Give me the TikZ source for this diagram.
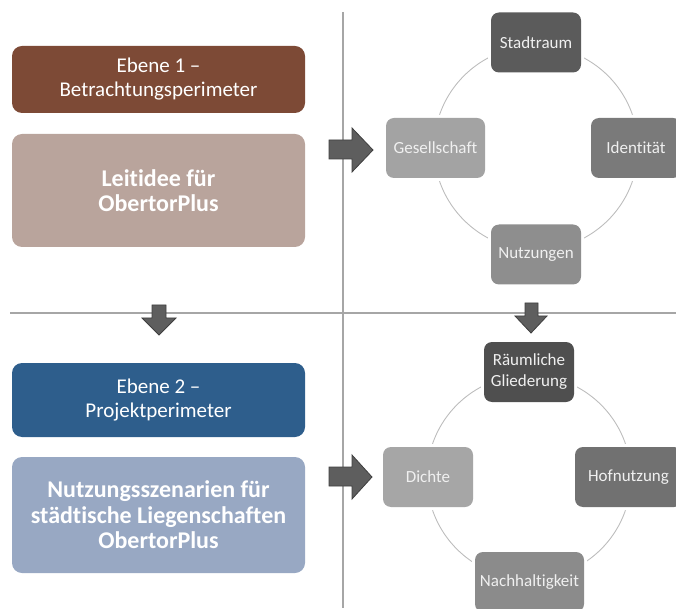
\documentclass[tikz,border=0pt]{standalone}
\usepackage{fontspec}
\setmainfont{Carlito}[Ligatures=NoCommon]
\definecolor{ebeneone}{HTML}{7D4A36}
\definecolor{leitcol}{HTML}{B9A49C}
\definecolor{ebenetwo}{HTML}{2E5E8C}
\definecolor{nutzcol}{HTML}{98A8C3}
\definecolor{gA}{HTML}{5B5B5B}
\definecolor{gB}{HTML}{7A7A7A}
\definecolor{gC}{HTML}{8E8E8E}
\definecolor{gD}{HTML}{A3A3A3}
\definecolor{hA}{HTML}{4F4F4F}
\definecolor{hB}{HTML}{717171}
\definecolor{hC}{HTML}{8B8B8B}
\definecolor{hD}{HTML}{A6A6A6}
\definecolor{linegray}{HTML}{A6A6A6}
\definecolor{ringgray}{HTML}{BDBDBD}
\definecolor{arrowgray}{HTML}{5E5E5E}
\definecolor{arrowedge}{HTML}{3F3F3F}
\begin{document}
\begin{tikzpicture}[x=1pt,y=1pt,
  bigbox/.style={rounded corners=10pt, minimum width=293pt, align=center, text=white, inner sep=0pt},
  ebenetext/.style={font=\fontsize{21}{24}\selectfont},
  ideatext/.style={font=\fontsize{24}{25.5}\selectfont\bfseries},
  ringnode/.style={rounded corners=8pt, fill=#1, preaction={draw=white,line width=6pt},
    minimum width=90pt, minimum height=60pt, inner sep=2pt, align=center,
    text=white!94!black, font=\fontsize{17}{21}\selectfont},
  sepline/.style={draw=linegray, line width=1.5pt},
  blockarrow/.style={fill=arrowgray, draw=arrowedge, line width=0.8pt, line join=miter},
  ringline/.style={draw=ringgray, line width=0.9pt}
]
\useasboundingbox (0,0) rectangle (676,608);
\clip (0,0) rectangle (676,608);

% separator lines
\coordinate (vtop) at (343,596);
\coordinate (vbot) at (343,0);
\coordinate (hleft) at (10,295);
\coordinate (hright) at (676,295);
\draw[sepline] (vtop) -- (vbot);
\draw[sepline] (hleft) -- (hright);

% left column
\node[bigbox, ebenetext, fill=ebeneone, minimum height=67pt] (e1) at (158.5,528.5) {Ebene 1 --\\Betrachtungsperimeter};
\node[bigbox, ideatext, fill=leitcol, minimum height=113pt] (leit) at (158.5,417.5) {Leitidee für\\ObertorPlus};
\node[bigbox, ebenetext, fill=ebenetwo, minimum height=74pt] (e2) at (158.5,208) {Ebene 2 --\\Projektperimeter};
\node[bigbox, ideatext, fill=nutzcol, minimum height=116pt] (nsz) at (158.5,93) {Nutzungsszenarien für\\städtische Liegenschaften\\ObertorPlus};

% ring 1
\coordinate (c1) at (536,460);
\draw[ringline] (c1) circle[radius=102];
\node[ringnode=gA] (stadt) at (536,565.5) {Stadtraum};
\node[ringnode=gD, minimum width=99pt] (ges) at (435.5,460) {Gesellschaft};
\node[ringnode=gB] (ident) at (636,460) {Identität};
\node[ringnode=gC] (nutz) at (536,353.5) {Nutzungen};

% ring 2
\coordinate (c2) at (529,131);
\draw[ringline] (c2) circle[radius=102];
\node[ringnode=hA] (raum) at (529,236) {Räumliche\\Gliederung};
\node[ringnode=hD] (dichte) at (428,131) {Dichte};
\node[ringnode=hB, minimum width=107pt] (hof) at (628.5,131) {Hofnutzung};
\node[ringnode=hC, minimum width=109pt] (nach) at (529.5,26) {Nachhaltigkeit};

% block arrows right
\draw[blockarrow] (329,468) -- (352,468) -- (352,480) -- (373,458) -- (352,436) -- (352,449) -- (329,449) -- cycle;
\draw[blockarrow] (329,141) -- (352,141) -- (352,153) -- (372,131) -- (352,109) -- (352,122) -- (329,122) -- cycle;
% block arrows down
\draw[blockarrow] (152,303) -- (152,290) -- (142,290) -- (159,273) -- (176,290) -- (166,290) -- (166,303) -- cycle;
\draw[blockarrow] (525,305) -- (525,292) -- (515,292) -- (531,275) -- (547,292) -- (538,292) -- (538,305) -- cycle;
\end{tikzpicture}
\end{document}
